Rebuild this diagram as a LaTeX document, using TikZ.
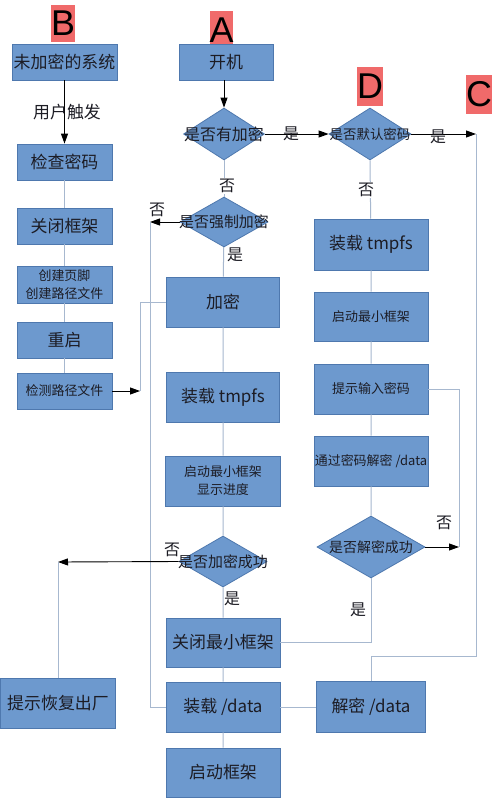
\documentclass[tikz,border=0pt]{standalone}
\usepackage{fontspec}
\setmainfont{Noto Sans CJK SC}
\newfontfamily\letterfont{Liberation Sans}
\usetikzlibrary{arrows.meta,shapes.geometric}
\definecolor{boxfill}{HTML}{6D99CE}
\definecolor{boxline}{HTML}{4E78AE}
\definecolor{wirecol}{HTML}{A7B8CF}
\definecolor{tagred}{HTML}{F06A6A}
\definecolor{ink}{HTML}{1C1C24}

\begin{document}
\begin{tikzpicture}[x=1bp,y=-1bp,
    box/.style={draw=boxline, fill=boxfill, line width=0.8bp, text=ink,
      inner sep=0pt, align=center, font=\fontsize{17}{19}\selectfont},
    smallbox/.style={box, font=\fontsize{13}{18}\selectfont},
    dia/.style={diamond, draw=boxline, fill=boxfill, line width=0.8bp, text=ink,
      inner sep=0pt, font=\fontsize{13.5}{15}\selectfont},
    tag/.style={fill=tagred, text=black, inner sep=0pt,
      font=\letterfont\fontsize{36}{36}\selectfont},
    lbl/.style={text=ink, inner sep=1bp, font=\fontsize{16}{18}\selectfont},
    wirel/.style={draw=wirecol, line width=1bp},
    flow/.style={draw=black, line width=0.9bp, -{Triangle[length=10bp,width=7bp]}}
  ]
  \fill[white] (0,0) rectangle (499,799);
  \useasboundingbox (0,0) rectangle (499,799);

  % letters
  \node[tag, minimum width=22bp, minimum height=37bp] (tagB) at (63,23.5) {B};
  \node[tag, minimum width=23bp, minimum height=38bp] (tagA) at (221.5,30) {A};
  \node[tag, minimum width=26bp, minimum height=39bp] (tagD) at (370,86.5) {D};
  \node[tag, minimum width=26bp, minimum height=39bp] (tagC) at (479,94.5) {C};

  % column B
  \node[box, minimum width=105bp, minimum height=36bp] (plain) at (64.5,62) {未加密的系统};
  \node[box, minimum width=95bp, minimum height=36bp] (check) at (64.5,162) {检查密码};
  \node[box, minimum width=95bp, minimum height=36bp] (closefw) at (64.5,226) {关闭框架};
  \node[smallbox, minimum width=95bp, minimum height=37bp] (mkfiles) at (64.5,284.5) {创建页脚\\创建路径文件};
  \node[box, minimum width=95bp, minimum height=36bp] (reboot) at (64.5,340) {重启};
  \node[smallbox, minimum width=95bp, minimum height=36bp] (detect) at (64.5,391) {检测路径文件};
  \node[box, minimum width=115bp, minimum height=50bp] (restore) at (58,703) {提示恢复出厂};

  % column A
  \node[box, minimum width=94bp, minimum height=36bp] (boot) at (226,62) {开机};
  \node[dia, minimum width=81bp, minimum height=52bp, font=\fontsize{16}{18}\selectfont] (hasenc) at (224,134) {\makebox[0pt]{是否有加密}};
  \node[dia, minimum width=88bp, minimum height=50bp, font=\fontsize{15}{17}\selectfont] (force) at (224,222) {\makebox[0pt]{是否强制加密}};
  \node[box, minimum width=113bp, minimum height=50bp] (enc) at (223,302) {加密};
  \node[box, minimum width=113bp, minimum height=50bp] (tmpfsA) at (223,397) {装载 tmpfs};
  \node[smallbox, minimum width=115bp, minimum height=50bp] (miniA) at (223,481) {启动最小框架\\显示进度};
  \node[dia, minimum width=88bp, minimum height=51bp, font=\fontsize{15}{17}\selectfont] (succ) at (223,561.5) {\makebox[0pt]{是否加密成功}};
  \node[box, minimum width=114bp, minimum height=49bp] (closemini) at (223,642.5) {关闭最小框架};
  \node[box, minimum width=114bp, minimum height=50bp] (mountdata) at (223,707) {装载 /data};
  \node[box, minimum width=114bp, minimum height=49bp] (startfw) at (223,772.5) {启动框架};

  % column D
  \node[dia, minimum width=82bp, minimum height=52bp] (defpw) at (370,134) {\makebox[0pt]{是否默认密码}};
  \node[box, minimum width=114bp, minimum height=51bp] (tmpfsD) at (371,244.5) {装载 tmpfs};
  \node[smallbox, minimum width=114bp, minimum height=49bp] (miniD) at (371,316.5) {启动最小框架};
  \node[smallbox, minimum width=114bp, minimum height=50bp] (prompt) at (371,389) {提示输入密码};
  \node[smallbox, minimum width=114bp, minimum height=50bp] (decrypt) at (371,461) {通过密码解密 /data};
  \node[dia, minimum width=108bp, minimum height=62bp, font=\fontsize{14}{16}\selectfont] (dsucc) at (371,547) {\makebox[0pt]{是否解密成功}};
  \node[box, minimum width=109bp, minimum height=51bp] (decdata) at (371,707) {解密 /data};

  % joints
  \coordinate (jEnc) at (140,391);
  \coordinate (jForce) at (150,222);
  \coordinate (jFail) at (58,562);
  \coordinate (jDef) at (476,134);
  \coordinate (jDown) at (476,656);
  \coordinate (jRetry) at (459,547);

  % connectors
  \draw[flow] (plain) -- (check);
  \draw[wirel] (check) -- (closefw) -- (mkfiles) -- (reboot) -- (detect);
  \draw[flow] (detect.east) -- (jEnc);
  \draw[wirel] (enc.west) -| (jEnc);
  \draw[flow] (boot.south -| hasenc.north) -- (hasenc.north);
  \draw[flow] (hasenc.east) -- (defpw.west);
  \draw[wirel] (hasenc) -- (force);
  \draw[flow] (force.west) -- (jForce);
  \draw[wirel] (jForce) |- (mountdata.west);
  \draw[wirel] (force) -- (enc) -- (tmpfsA) -- (miniA) -- (succ) -- (closemini) -- (mountdata) -- (startfw);
  \draw[flow] (succ.west) -- (jFail);
  \draw[wirel] (jFail) -- (restore.north);
  \draw[flow] (defpw.east) -- (jDef);
  \draw[wirel] (jDef) -- (jDown) -| (decdata.north);
  \draw[wirel] (defpw.south) -- (tmpfsD) -- (miniD) -- (prompt) -- (decrypt) -- (dsucc);
  \draw[wirel] (prompt.east) -| (jRetry);
  \draw[flow] (dsucc.east) -- (jRetry);
  \draw[wirel] (dsucc.south) |- (closemini.east);
  \draw[wirel] (decdata) -- (mountdata);

  % labels
  \node[lbl, font=\fontsize{17}{19}\selectfont] (trig) at (67,112) {用户触发};
  \node[lbl] (yes1) at (291,134) {是};
  \node[lbl] (yes2) at (438,137) {是};
  \node[lbl, fill=white] (no1) at (227,186) {否};
  \node[lbl, fill=white] (no2) at (366,190) {否};
  \node[lbl] (no3) at (157,210) {否};
  \node[lbl] (yes3) at (235,255) {是};
  \node[lbl] (no4) at (172,550) {否};
  \node[lbl] (yes4) at (232,599) {是};
  \node[lbl] (no5) at (444,523) {否};
  \node[lbl] (yes5) at (358,610) {是};
\end{tikzpicture}
\end{document}
